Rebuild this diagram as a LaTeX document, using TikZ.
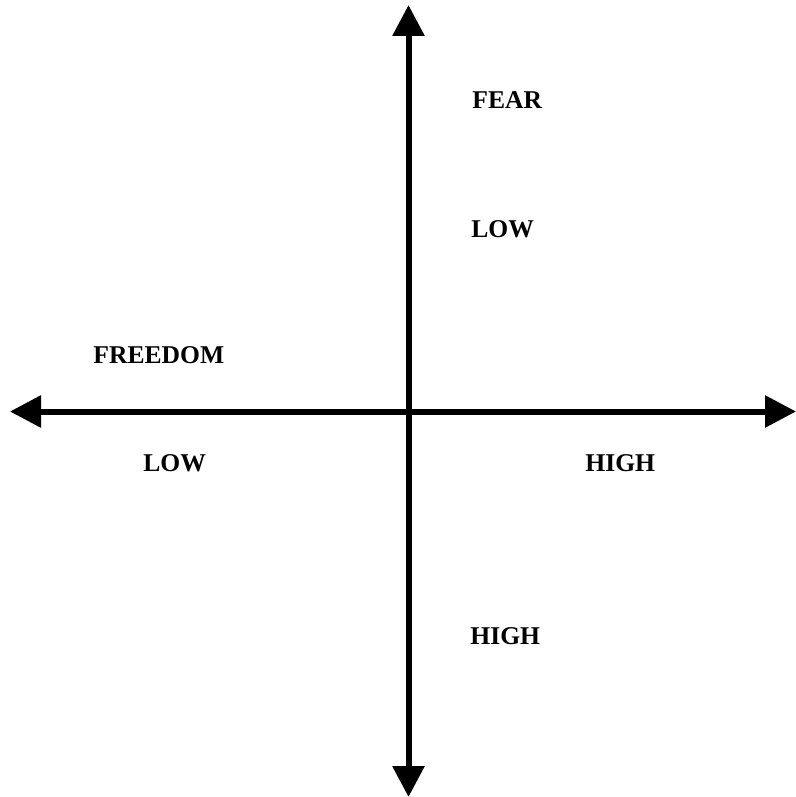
\documentclass[tikz,border=0pt]{standalone}
\usepackage{fontspec}
\setmainfont{Liberation Serif}
\usetikzlibrary{arrows.meta}
\tikzset{
  axis/.style={line width=3pt, {Triangle[length=15.5pt,width=15.5pt]}-{Triangle[length=15.5pt,width=15.5pt]}},
  lab/.style={anchor=base west, inner sep=0pt, font=\fontsize{12.8pt}{15pt}\selectfont\bfseries}
}
\begin{document}
\begin{tikzpicture}[x=0.5pt,y=-0.5pt]
\useasboundingbox (0,0) rectangle (796,797);
\coordinate (L) at (10,411.5);
\coordinate (R) at (796,411.5);
\coordinate (T) at (408.5,5);
\coordinate (B) at (408.5,797);
\draw[axis] (L) -- (R);
\draw[axis] (T) -- (B);
\node[lab] (fear) at (472,109) {FEAR};
\node[lab] (lowup) at (471,237) {LOW};
\node[lab] (freedom) at (93,363) {FREEDOM};
\node[lab] (lowleft) at (143,471) {LOW};
\node[lab] (highright) at (585,471) {HIGH};
\node[lab] (highdown) at (470,644) {HIGH};
\end{tikzpicture}
\end{document}
